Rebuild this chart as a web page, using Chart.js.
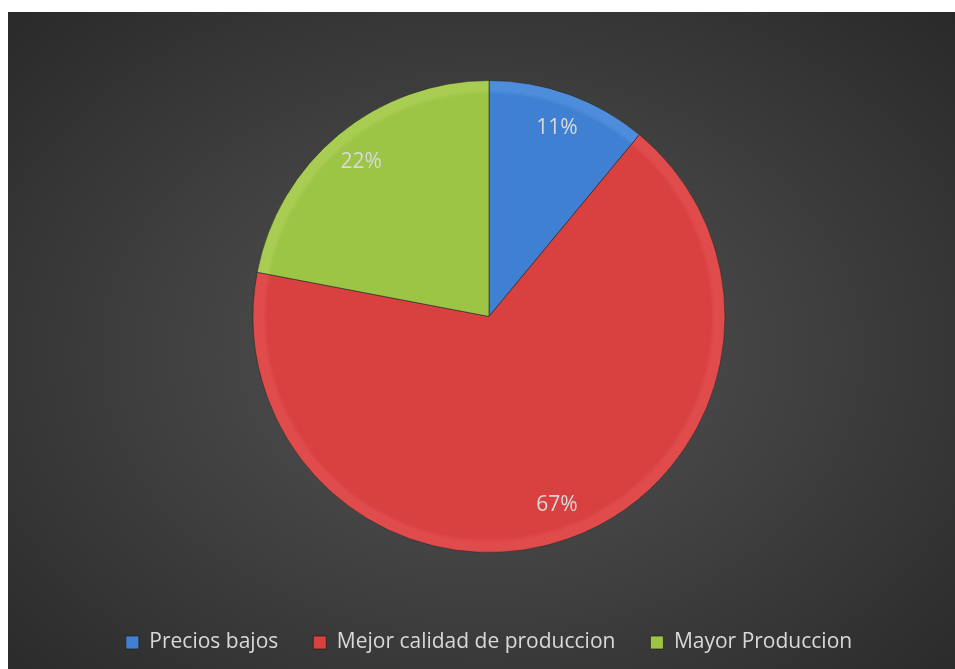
<!DOCTYPE html>
<html>
<head>
<meta charset="utf-8">
<script src="https://cdn.jsdelivr.net/npm/chart.js@4"></script>
<style>
    html, body { margin: 0; padding: 0; background: #fff; }
    #wrap {
        position: absolute; left: 8px; top: 12px; width: 947px; height: 657px;
        background: radial-gradient(ellipse 75% 80% at 50% 52%, #555555 0%, #404040 45%, #262626 100%);
    }
</style>
</head>
<body>
<div id="wrap"><canvas id="pie-chart" width="947" height="657"></canvas></div>
<script>
const ctx = document.getElementById("pie-chart");
const labels = ["Precios bajos", "Mejor calidad de produccion", "Mayor Produccion"];
const values = [11, 67, 22];
const colors = ["#3f80d2", "#d94141", "#9cc445"];
const rimColors = ["#4e8ddc", "#e04c4c", "#a8cd52"];

const percentLabels = {
    id: "percentLabels",
    afterDatasetsDraw(chart) {
        const c = chart.ctx;
        const meta = chart.getDatasetMeta(0);
        const total = values.reduce((a, b) => a + b, 0);
        c.save();
        c.fillStyle = "#d9d9d9";
        c.font = "21px 'Open Sans'";
        c.textAlign = "center";
        c.textBaseline = "middle";
        meta.data.forEach((arc, i) => {
            const mid = (arc.startAngle + arc.endAngle) / 2;
            const r = arc.outerRadius * 0.85;
            const pct = Math.round((values[i] / total) * 100) + "%";
            c.fillText(pct, arc.x + Math.cos(mid) * r, arc.y + Math.sin(mid) * r);
        });
        c.restore();
    },
};

// slightly lighter rim, like the bevel in the original
function sliceFill(context) {
    const chart = context.chart;
    const i = context.dataIndex;
    const area = chart.chartArea;
    if (!area) return colors[i];
    const x = (area.left + area.right) / 2;
    const y = (area.top + area.bottom) / 2;
    const g = chart.ctx.createRadialGradient(x, y, 0, x, y, 236);
    g.addColorStop(0, colors[i]);
    g.addColorStop(0.94, colors[i]);
    g.addColorStop(0.96, rimColors[i]);
    g.addColorStop(1, rimColors[i]);
    return g;
}

const data = {
    labels,
    datasets: [
        {
            data: values,
            backgroundColor: sliceFill,
            borderColor: "rgba(40,40,40,0.6)",
            borderWidth: 1,
            radius: 236,
        },
    ],
};

const config = {
    type: "pie",
    data,
    options: {
        responsive: false,
        animation: false,
        layout: { padding: { left: 15, top: 24, bottom: 6 } },
        plugins: {
            tooltip: { enabled: false },
            legend: {
                position: "bottom",
                labels: {
                    color: "#d9d9d9",
                    font: { family: "'Open Sans'", size: 21 },
                    boxWidth: 13,
                    boxHeight: 13,
                    padding: 35,
                    generateLabels(chart) {
                        return labels.map((text, i) => ({
                            text,
                            fillStyle: colors[i],
                            strokeStyle: "rgba(30,30,30,0.7)",
                            lineWidth: 1,
                            fontColor: "#d9d9d9",
                            index: i,
                        }));
                    },
                },
            },
        },
    },
    plugins: [percentLabels],
};

new Chart(ctx, config);
</script>
</body>
</html>
